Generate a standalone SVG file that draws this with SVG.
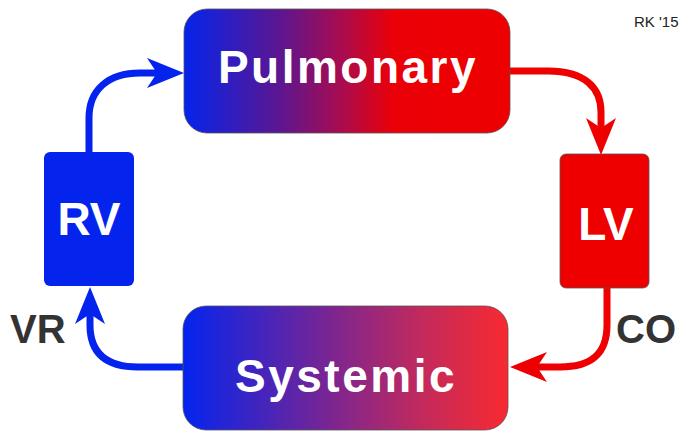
<svg xmlns="http://www.w3.org/2000/svg" width="691" height="444" viewBox="0 0 691 444">
<defs>
<linearGradient id="gPul" x1="0" y1="0" x2="1" y2="0">
<stop offset="0" stop-color="#0424ec"/>
<stop offset="0.3" stop-color="#5e168e"/>
<stop offset="0.48" stop-color="#a80c50"/>
<stop offset="0.64" stop-color="#ea0008"/>
<stop offset="1" stop-color="#ee0000"/>
</linearGradient>
<linearGradient id="gSys" x1="0" y1="0" x2="1" y2="0">
<stop offset="0" stop-color="#0424ee"/>
<stop offset="0.45" stop-color="#7a2592"/>
<stop offset="0.75" stop-color="#c62a5a"/>
<stop offset="1" stop-color="#f82a30"/>
</linearGradient>
<marker id="aBlue" viewBox="-38 -16 40 32" markerWidth="40" markerHeight="32" refX="-27" refY="0" orient="auto" markerUnits="userSpaceOnUse">
<path d="M0,0 L-37,-15 L-27,0 L-37,15 Z" fill="#0424ee"/>
</marker>
<marker id="aRed" viewBox="-38 -16 40 32" markerWidth="40" markerHeight="32" refX="-27" refY="0" orient="auto" markerUnits="userSpaceOnUse">
<path d="M0,0 L-37,-15 L-27,0 L-37,15 Z" fill="#ee0000"/>
</marker>
</defs>
<style>
.big{font-family:"Liberation Sans",Arial,sans-serif;font-weight:bold;fill:#fff;text-anchor:middle}
.lbl{font-family:"Liberation Sans",Arial,sans-serif;font-weight:bold;fill:#333;font-size:40px}
.box{stroke:#555;stroke-width:0.8}
.blue{fill:none;stroke:#0424ee;stroke-width:7}
.red{fill:none;stroke:#ee0000;stroke-width:7}
</style>
<rect width="691" height="444" fill="#fff"/>
<g id="connectors">
<path class="blue" d="M89,152 V118 C89,90 108,73 140,73 H157" marker-end="url(#aBlue)"/>
<path class="red" d="M510,71 H548 C585,71 601,88 601,112 V128" marker-end="url(#aRed)"/>
<path class="red" d="M607,288 V325 C607,355 590,367 560,367 H537" marker-end="url(#aRed)"/>
<path class="blue" d="M183,367 H138 C105,367 90,352 90,325 V314" marker-end="url(#aBlue)"/>
</g>
<g id="pulmonary">
<rect class="box" x="184" y="9" width="326" height="124" rx="23" fill="url(#gPul)"/>
<text class="big" x="348" y="83" font-size="46" letter-spacing="2.5">Pulmonary</text>
</g>
<g id="systemic">
<rect class="box" x="183" y="306" width="325" height="124" rx="23" fill="url(#gSys)"/>
<text class="big" x="346" y="392" font-size="46" letter-spacing="2.5">Systemic</text>
</g>
<g id="rv">
<rect x="44" y="152" width="90" height="134" rx="6" fill="#0424ee"/>
<text class="big" x="89" y="235" font-size="46">RV</text>
</g>
<g id="lv">
<rect class="box" x="560" y="154" width="89" height="134" rx="6" fill="#ee0000"/>
<text class="big" x="606" y="240" font-size="46">LV</text>
</g>
<text class="lbl" x="10" y="343">VR</text>
<text class="lbl" x="616" y="343">CO</text>
<text x="634" y="27" font-family="Liberation Sans,Arial,sans-serif" font-size="15" fill="#222">RK '15</text>
</svg>
